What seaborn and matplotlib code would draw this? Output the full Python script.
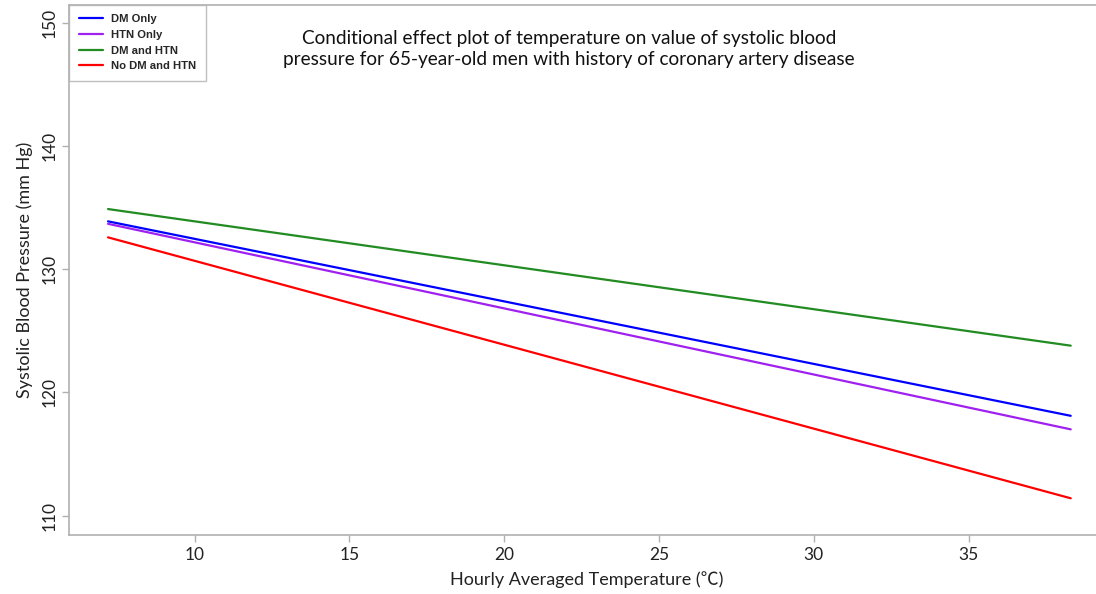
import numpy as np
import pandas as pd
import matplotlib
matplotlib.use("Agg")
import matplotlib.pyplot as plt
import seaborn as sns

# values (straight fitted lines, endpoints only)
GROUPS = ["DM Only", "HTN Only", "DM and HTN", "No DM and HTN"]
TEMP_RANGE = [7.2, 38.3]
SBP_START = [133.9, 133.7, 134.9, 132.6]
SBP_END = [118.1, 117.0, 123.8, 111.4]

X_TICKS = [10, 15, 20, 25, 30, 35]
Y_TICKS = [110, 120, 130, 140, 150]

COLORS = {
    "DM Only": "#0000FF",
    "HTN Only": "#A020F0",
    "DM and HTN": "#228B22",
    "No DM and HTN": "#FF0000",
}


def main():
    rows = []
    for g, s0, s1 in zip(GROUPS, SBP_START, SBP_END):
        rows.append({"Group": g, "Temp": TEMP_RANGE[0], "SBP": s0})
        rows.append({"Group": g, "Temp": TEMP_RANGE[1], "SBP": s1})
    df = pd.DataFrame(rows)

    sns.set_theme(style="white")
    plt.rcParams["font.family"] = ["Lato", "Noto Sans CJK SC", "DejaVu Sans"]

    fig = plt.figure(figsize=(10.96, 5.94), dpi=100)
    ax = fig.add_axes([0.063, 0.099, 0.945, 0.893])

    sns.lineplot(
        data=df, x="Temp", y="SBP", hue="Group", hue_order=GROUPS,
        palette=COLORS, linewidth=1.6, ax=ax, legend=False
    )

    ax.set_xlim(5.94, 39.4)
    ax.set_ylim(108.4, 151.5)
    ax.set_xticks(X_TICKS)
    ax.set_yticks(Y_TICKS)
    ax.set_yticklabels([str(v) for v in Y_TICKS], rotation=90, va="center")

    for side in ["left", "bottom", "top"]:
        ax.spines[side].set_color("#b0b0b0")
        ax.spines[side].set_linewidth(1.2)
    ax.spines["right"].set_visible(False)
    ax.tick_params(axis="both", length=5, width=1, color="#b0b0b0",
                   labelsize=12.5, labelcolor="#222222", bottom=True, left=True)

    ax.set_xlabel("Hourly Averaged Temperature (℃)", fontsize=13, color="#222222", labelpad=6)
    ax.set_ylabel("Systolic Blood Pressure (mm Hg)", fontsize=13, color="#222222", labelpad=6)

    handles = [plt.Line2D([], [], color=COLORS[g], lw=1.6) for g in GROUPS]
    leg = ax.legend(
        handles, GROUPS, loc="upper left", frameon=True, fancybox=False,
        borderaxespad=0, handlelength=2.2, labelspacing=0.5, borderpad=0.85,
        handletextpad=0.7,
        prop={"family": "Liberation Sans", "weight": "bold", "size": 8.1}
    )
    leg.get_frame().set_edgecolor("#b0b0b0")
    leg.get_frame().set_linewidth(1.0)

    ax.text(
        0.483, 0.952,
        "Conditional effect plot of temperature on value of systolic blood\n"
        "pressure for 65-year-old men with history of coronary artery disease",
        transform=ax.transAxes, ha="center", va="top", fontsize=13.7,
        color="#111111", linespacing=1.3
    )

    fig.savefig("out.png", dpi=100)
    plt.close(fig)


if __name__ == "__main__":
    main()
